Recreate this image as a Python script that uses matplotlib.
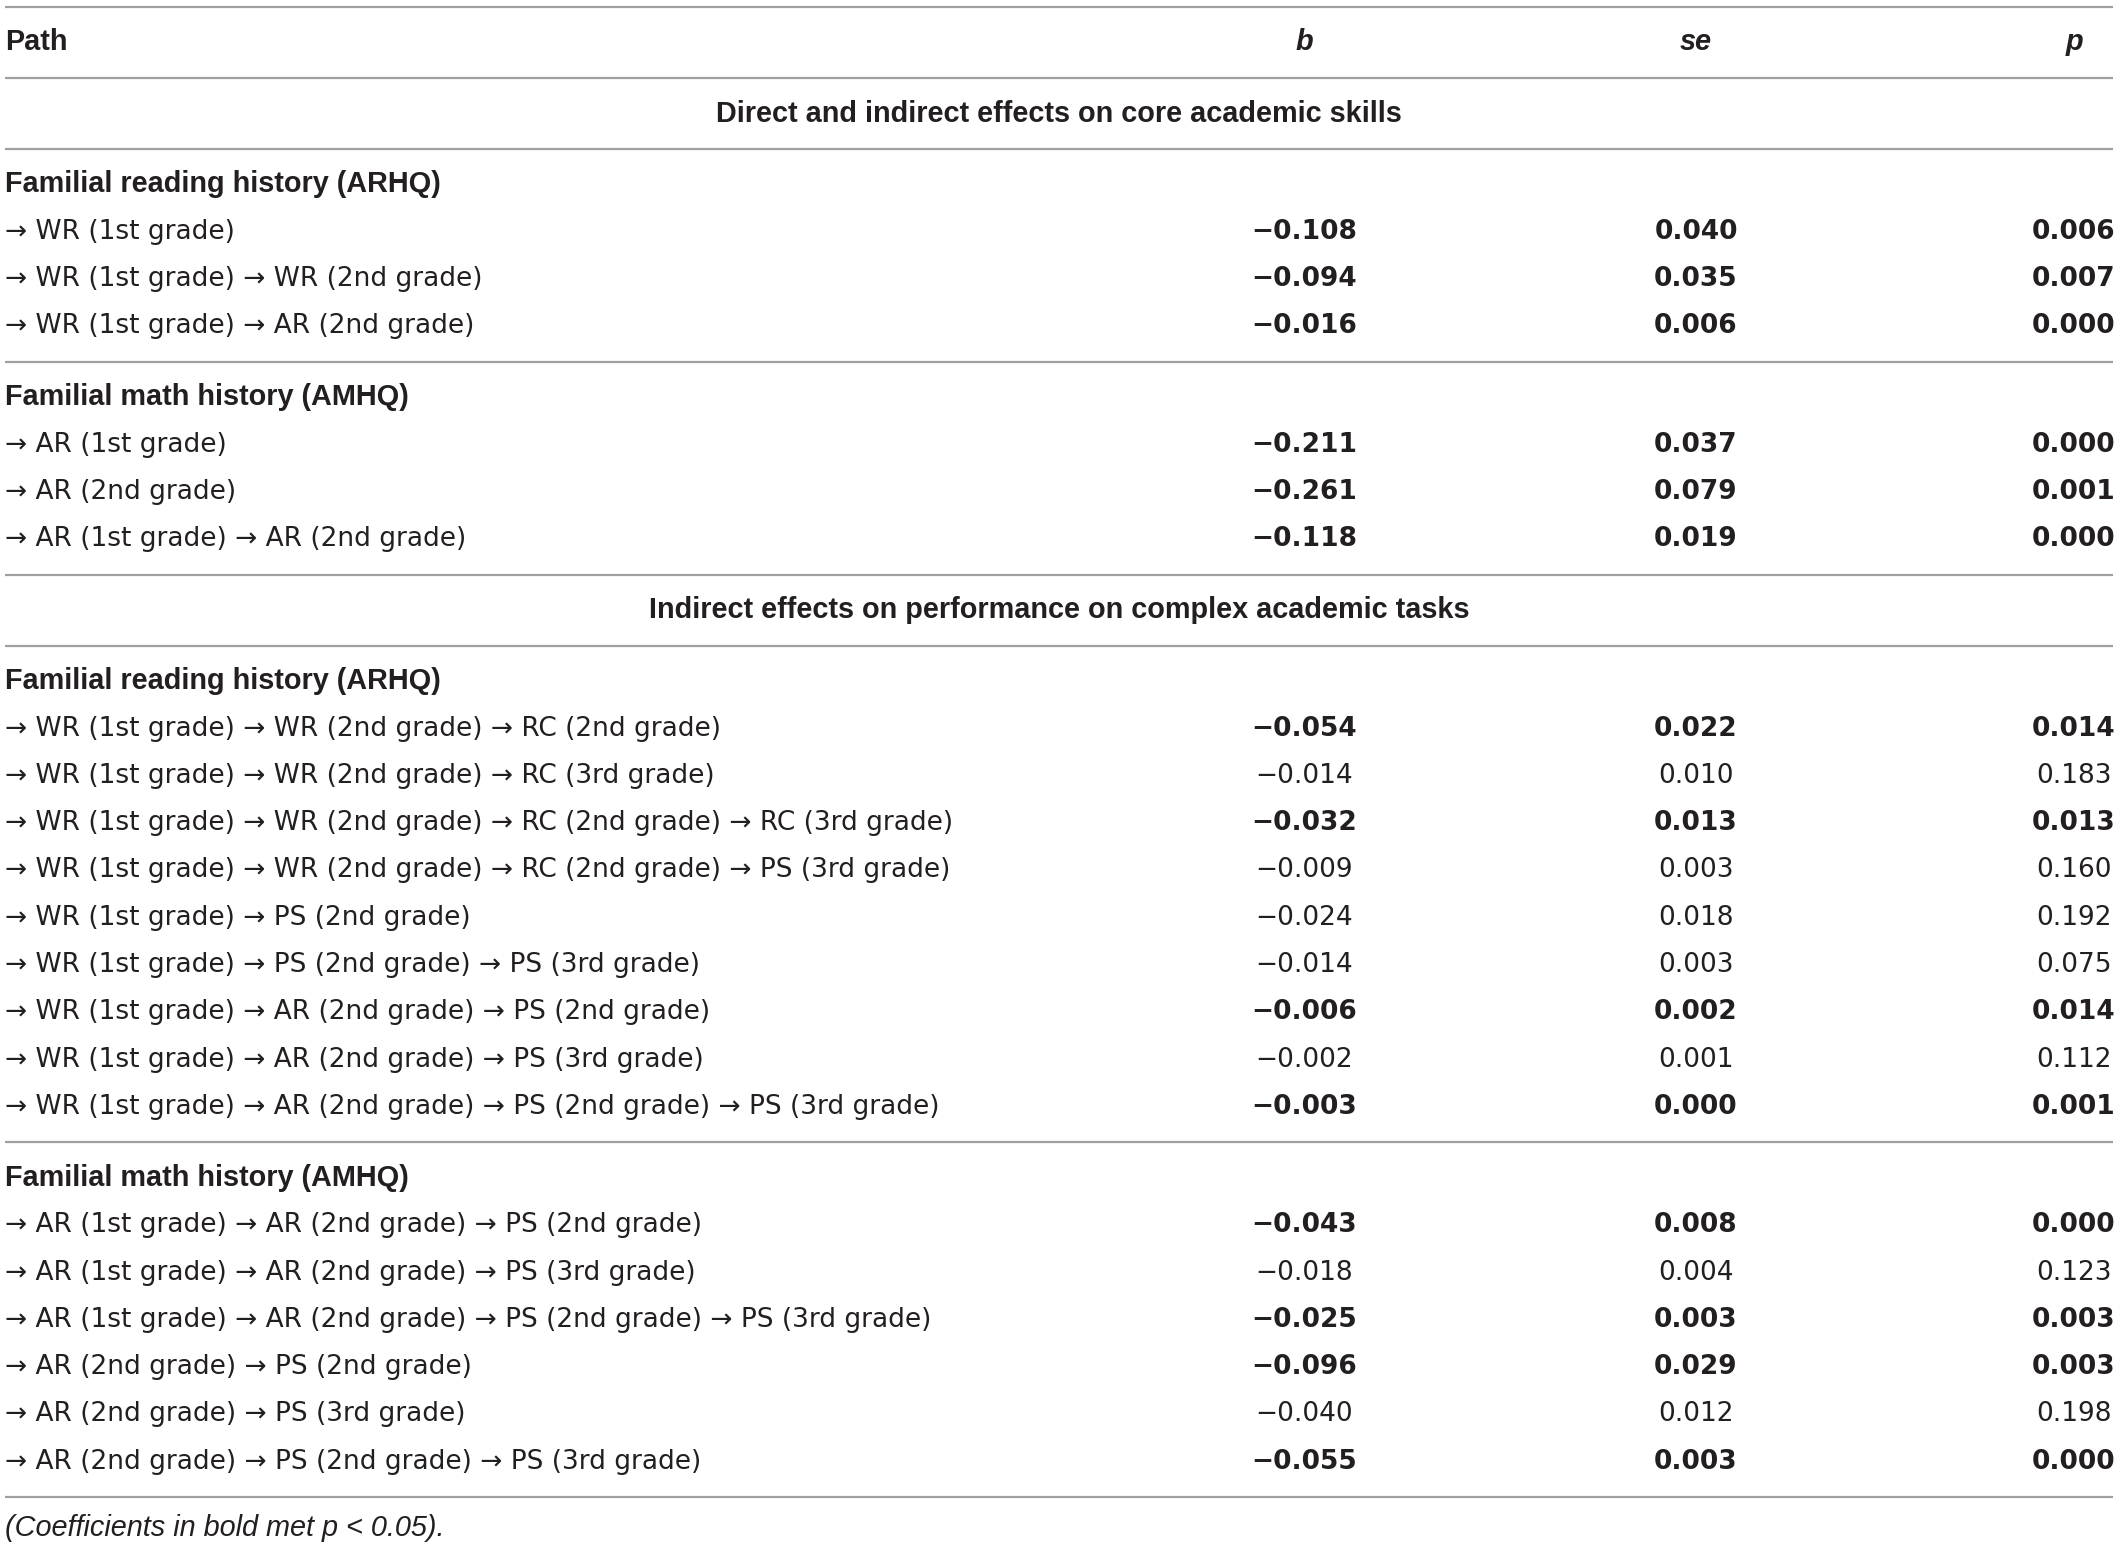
import matplotlib
matplotlib.use("Agg")
import matplotlib.pyplot as plt

plt.rcParams['font.family'] = ['Liberation Sans', 'DejaVu Sans']

# table content
col_headers = ["Path", "b", "se", "p"]
section_titles = ["Direct and indirect effects on core academic skills",
                  "Indirect effects on performance on complex academic tasks"]
group_names = ["Familial reading history (ARHQ)", "Familial math history (AMHQ)"]

# section 1, reading
s1_read_paths = ["WR (1st grade)",
                 "WR (1st grade) → WR (2nd grade)",
                 "WR (1st grade) → AR (2nd grade)"]
s1_read_b = [-0.108, -0.094, -0.016]
s1_read_se = [0.040, 0.035, 0.006]
s1_read_p = [0.006, 0.007, 0.000]

# section 1, math
s1_math_paths = ["AR (1st grade)",
                 "AR (2nd grade)",
                 "AR (1st grade) → AR (2nd grade)"]
s1_math_b = [-0.211, -0.261, -0.118]
s1_math_se = [0.037, 0.079, 0.019]
s1_math_p = [0.000, 0.001, 0.000]

# section 2, reading
s2_read_paths = ["WR (1st grade) → WR (2nd grade) → RC (2nd grade)",
                 "WR (1st grade) → WR (2nd grade) → RC (3rd grade)",
                 "WR (1st grade) → WR (2nd grade) → RC (2nd grade) → RC (3rd grade)",
                 "WR (1st grade) → WR (2nd grade) → RC (2nd grade) → PS (3rd grade)",
                 "WR (1st grade) → PS (2nd grade)",
                 "WR (1st grade) → PS (2nd grade) → PS (3rd grade)",
                 "WR (1st grade) → AR (2nd grade) → PS (2nd grade)",
                 "WR (1st grade) → AR (2nd grade) → PS (3rd grade)",
                 "WR (1st grade) → AR (2nd grade) → PS (2nd grade) → PS (3rd grade)"]
s2_read_b = [-0.054, -0.014, -0.032, -0.009, -0.024, -0.014, -0.006, -0.002, -0.003]
s2_read_se = [0.022, 0.010, 0.013, 0.003, 0.018, 0.003, 0.002, 0.001, 0.000]
s2_read_p = [0.014, 0.183, 0.013, 0.160, 0.192, 0.075, 0.014, 0.112, 0.001]

# section 2, math
s2_math_paths = ["AR (1st grade) → AR (2nd grade) → PS (2nd grade)",
                 "AR (1st grade) → AR (2nd grade) → PS (3rd grade)",
                 "AR (1st grade) → AR (2nd grade) → PS (2nd grade) → PS (3rd grade)",
                 "AR (2nd grade) → PS (2nd grade)",
                 "AR (2nd grade) → PS (3rd grade)",
                 "AR (2nd grade) → PS (2nd grade) → PS (3rd grade)"]
s2_math_b = [-0.043, -0.018, -0.025, -0.096, -0.040, -0.055]
s2_math_se = [0.008, 0.004, 0.003, 0.029, 0.012, 0.003]
s2_math_p = [0.000, 0.123, 0.003, 0.003, 0.198, 0.000]

footnote = "(Coefficients in bold met p < 0.05)."

W, H = 2117, 1546
fig = plt.figure(figsize=(W / 100, H / 100), dpi=100)
ax = fig.add_axes([0, 0, 1, 1])
ax.set_xlim(0, W)
ax.set_ylim(H, 0)
ax.axis("off")

TXT = "#231f20"
RULE = "#a0a0a0"
FS_HEAD = 20.8           # bold headings, Liberation Sans
FS_ROW = 19              # path rows and numbers, DejaVu Sans (full size arrows)
FAM_ROW = ['DejaVu Sans']
X_LEFT, X_RIGHT = 5, 2113
X_B, X_SE, X_P = 1304, 1696, 2074
PAD = 35.5
PITCH = 47.3


def rule(y):
    ax.plot([X_LEFT, X_RIGHT], [y, y], color=RULE, lw=1.6, solid_capstyle="butt")


def fmt(v):
    s = "%.3f" % abs(v)
    return ("\u2212" + s) if v < 0 else s


y = 7
rule(y)
y += PAD
ax.text(X_LEFT, y, col_headers[0], fontsize=FS_HEAD, fontweight="bold", color=TXT, va="center", ha="left")
for x, h in zip([X_B, X_SE, X_P], col_headers[1:]):
    ax.text(x, y, h, fontsize=FS_HEAD, fontweight="bold", style="italic", color=TXT, va="center", ha="center")
y += PAD
rule(y)

sections = [
    (section_titles[0], [(group_names[0], s1_read_paths, s1_read_b, s1_read_se, s1_read_p),
                         (group_names[1], s1_math_paths, s1_math_b, s1_math_se, s1_math_p)]),
    (section_titles[1], [(group_names[0], s2_read_paths, s2_read_b, s2_read_se, s2_read_p),
                         (group_names[1], s2_math_paths, s2_math_b, s2_math_se, s2_math_p)]),
]

for title, groups in sections:
    y += PAD
    ax.text((X_LEFT + X_RIGHT) / 2, y, title, fontsize=FS_HEAD, fontweight="bold", color=TXT,
            va="center", ha="center")
    y += PAD
    rule(y)
    for gname, paths, bs, ses, ps in groups:
        y += PAD
        ax.text(X_LEFT, y, gname, fontsize=FS_HEAD, fontweight="bold", color=TXT, va="center", ha="left")
        for path, b, se, p in zip(paths, bs, ses, ps):
            y += PITCH
            ax.text(X_LEFT, y, "\u2192 " + path, fontsize=FS_ROW, family=FAM_ROW, color=TXT,
                    va="center", ha="left")
            w = "bold" if p < 0.05 else "normal"
            for x, v in zip([X_B, X_SE, X_P], [b, se, p]):
                ax.text(x, y, fmt(v), fontsize=FS_ROW, family=FAM_ROW, fontweight=w, color=TXT,
                        va="center", ha="center")
        y += PAD
        rule(y)

ax.text(X_LEFT, y + 31, footnote, fontsize=FS_HEAD, style="italic", color=TXT, va="center", ha="left")

fig.savefig("out.png", dpi=100)
